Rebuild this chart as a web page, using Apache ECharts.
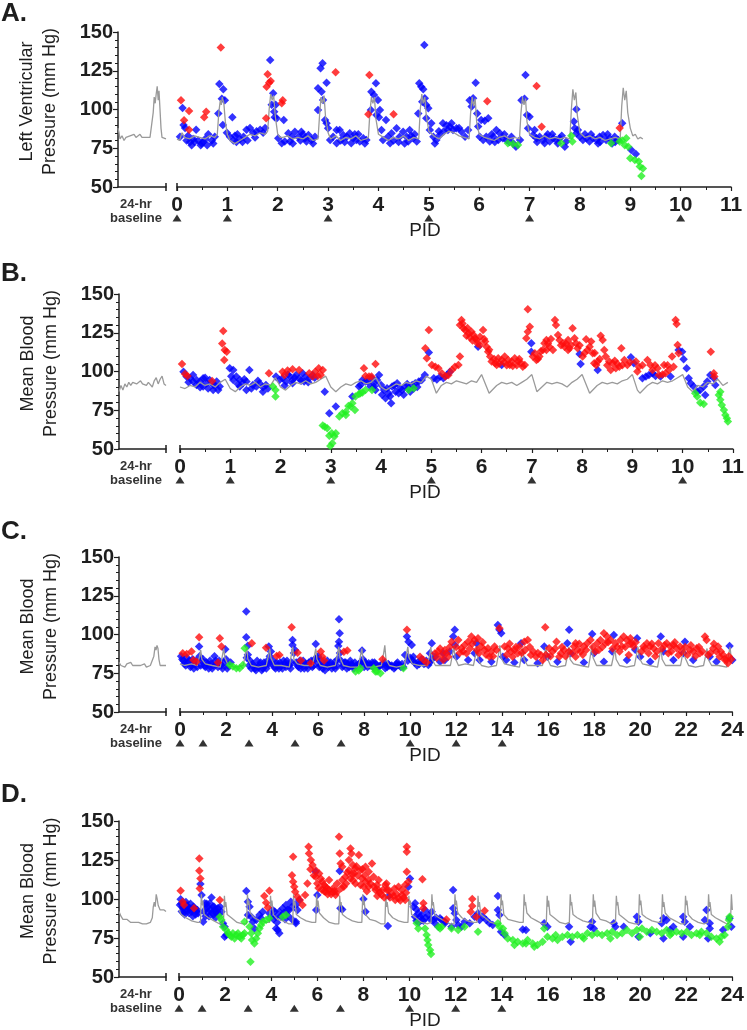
<!DOCTYPE html>
<html><head><meta charset="utf-8">
<script src="https://cdn.jsdelivr.net/npm/echarts@6/dist/echarts.min.js"></script>
<style>html,body{margin:0;padding:0;background:#fff}#c{width:747px;height:1030px}</style>
</head><body><div id="c"></div>
<script>
// ---------------- DATA ----------------
const panelLetters = ['A.', 'B.', 'C.', 'D.'];
const yNames = ['Left Ventricular\nPressure (mm Hg)', 'Mean Blood\nPressure (mm Hg)', 'Mean Blood\nPressure (mm Hg)', 'Mean Blood\nPressure (mm Hg)'];
const xMaxes = [11, 11, 24, 24];
const xIntervals = [1, 1, 2, 2];
const baselineText = '24-hr\nbaseline';
const xTitle = 'PID';
const arrowsA = [0, 1, 3, 5, 7, 10];
const arrowsB = [0, 1, 3, 5, 7, 10];
const arrowsC = [0, 1, 3, 5, 7, 10, 12, 14];
const arrowsD = [0, 1, 3, 5, 7, 10, 12, 14];

// Panel A
const aBase = [[0,88],[0.5,85],[1,81],[2,83],[3,80],[4,82],[5,81],[6,83],[7,82],[8,84],[9,82],[10,83],[11,84],[12,82],[13,83],[14,82],[15,83],[16,82],[17,82],[17.6,98],[18.1,108],[18.6,104],[19.1,110],[19.6,115],[20.1,106],[20.5,112],[21,100],[21.5,88],[22,82],[23,81],[24,81]];
const aLine = [[0,81],[0.05,80],[0.1,85],[0.15,82],[0.25,81],[0.35,83],[0.45,82],[0.55,81],[0.65,83],[0.75,82],[0.8,84],[0.83,98],[0.86,106],[0.88,103],[0.9,108],[0.93,104],[0.96,92],[1.0,84],[1.05,80],[1.15,78],[1.25,80],[1.35,82],[1.45,84],[1.55,83],[1.65,85],[1.75,84],[1.8,86],[1.83,100],[1.86,110],[1.89,106],[1.92,109],[1.95,96],[2.0,84],[2.05,82],[2.1,82],[2.2,83],[2.3,81],[2.4,82],[2.5,81],[2.6,83],[2.7,80],[2.8,81],[2.83,96],[2.86,108],[2.89,104],[2.92,109],[2.95,95],[3.0,85],[3.05,81],[3.15,83],[3.25,80],[3.35,82],[3.45,81],[3.55,83],[3.65,80],[3.75,81],[3.8,82],[3.83,98],[3.86,108],[3.89,104],[3.92,108],[3.95,94],[4.0,84],[4.1,82],[4.2,80],[4.3,82],[4.4,81],[4.5,83],[4.6,80],[4.7,82],[4.8,81],[4.83,100],[4.86,110],[4.89,104],[4.92,108],[4.95,96],[5.0,86],[5.1,83],[5.2,81],[5.3,84],[5.4,86],[5.5,85],[5.6,83],[5.7,82],[5.8,81],[5.83,98],[5.86,108],[5.89,102],[5.92,107],[5.95,92],[6.0,84],[6.1,82],[6.2,81],[6.3,80],[6.4,82],[6.5,83],[6.6,81],[6.7,82],[6.8,81],[6.83,98],[6.86,108],[6.89,103],[6.92,107],[6.95,92],[7.0,84],[7.1,82],[7.2,81],[7.3,83],[7.4,81],[7.5,82],[7.6,81],[7.7,82],[7.8,81],[7.83,100],[7.86,113],[7.89,106],[7.92,111],[7.95,96],[8.0,85],[8.1,82],[8.2,83],[8.3,81],[8.4,82],[8.5,80],[8.6,81],[8.7,82],[8.8,81],[8.83,102],[8.86,114],[8.89,106],[8.92,112],[8.95,98],[9.0,88],[9.05,83],[9.1,84],[9.15,81],[9.2,82],[9.25,81]];
const aBlue = [[0.06,82.5],[0.11,101],[0.13,90],[0.16,88],[0.19,80],[0.22,83],[0.26,79],[0.29,77],[0.32,81],[0.38,87],[0.42,80],[0.47,77],[0.49,78],[0.52,79],[0.56,81],[0.62,84],[0.69,80],[0.75,82.5],[0.82,97.5],[0.84,116.5],[0.89,107],[0.91,90],[0.92,113],[0.95,106],[0.99,85],[1.05,82.5],[1.1,95],[1.12,80],[1.18,79],[1.2,84],[1.25,81],[1.32,82.5],[1.38,87],[1.4,80],[1.45,88],[1.51,85],[1.58,86],[1.65,87],[1.71,85],[1.75,88],
[1.85,132],[1.88,103],[1.91,110.5],[1.93,98.6],[1.94,95],[1.96,103],[1.98,94.3],[2.01,81.4],[2.08,78.2],[2.12,93.3],[2.14,79.3],[2.21,84.6],[2.24,79.3],[2.28,82.5],[2.34,85.7],[2.41,82.5],[2.45,80],[2.47,85.7],[2.54,81.4],[2.57,79.3],[2.61,83.6],[2.67,80.3],[2.74,82.5],
[2.8,113.7],[2.8,99.7],[2.85,126.6],[2.87,111.5],[2.89,129.8],[2.9,106.2],[2.94,93.3],[2.97,117.3],[2.97,91.1],[3.0,87.9],[3.04,80.3],[3.1,82.5],[3.17,86.8],[3.17,78.2],[3.23,86.8],[3.25,80],[3.3,83.6],[3.37,82.5],[3.43,84.6],[3.46,78.2],[3.5,81.4],[3.56,80.3],[3.6,84],[3.63,79.3],[3.7,81.4],[3.76,80.3],
[3.85,99.7],[3.86,111.5],[3.91,109.4],[3.95,116.9],[3.96,96.5],[3.99,106.2],[4.01,95],[4.03,99.7],[4.06,86.8],[4.09,80.3],[4.15,93.3],[4.19,82.5],[4.23,78.2],[4.26,84.6],[4.3,80],[4.36,87.9],[4.42,82.5],[4.49,85.7],[4.56,82.5],[4.59,79.3],[4.62,86.8],[4.65,83],[4.69,81.4],[4.76,79.3],
[4.79,97.5],[4.81,116.9],[4.85,114.7],[4.87,105],[4.89,113],[4.91,141.6],[4.92,107.2],[4.95,102.9],[4.95,94.3],[4.99,100.8],[5.02,86.8],[5.05,91.1],[5.09,82.5],[5.15,80.3],[5.2,86],[5.22,83.6],[5.28,91.1],[5.35,89.9],[5.38,86.8],[5.42,88.9],[5.45,91.1],[5.48,86.8],[5.55,87.9],[5.6,88],[5.65,85.7],[5.72,82.5],[5.78,86.8],
[5.81,106],[5.85,101.9],[5.88,107.2],[5.93,117.3],[5.96,97.5],[5.98,89],[6.01,82.5],[6.04,93.2],[6.08,80.3],[6.11,92.8],[6.14,82.5],[6.18,94.3],[6.21,79.3],[6.25,84],[6.28,82.5],[6.34,86.8],[6.38,80.3],[6.41,84.6],[6.47,81.4],[6.54,80.3],[6.6,79],[6.64,82.5],[6.73,76],[6.81,80.3],
[6.84,106],[6.9,107],[6.92,122.3],[6.95,96.5],[6.97,87.9],[7.0,95.4],[7.07,83.6],[7.1,86.8],[7.14,81.4],[7.15,79],[7.2,82.5],[7.27,80.3],[7.3,78.2],[7.33,82.5],[7.4,79.3],[7.45,84],[7.47,81.4],[7.53,80.3],[7.6,81.4],[7.7,76],[7.73,79.3],
[7.88,92.2],[7.9,87.9],[7.93,100.1],[7.93,84.6],[7.96,86.8],[8.0,82.5],[8.06,80.3],[8.1,84],[8.13,81.4],[8.19,79.3],[8.26,81.4],[8.33,80.3],[8.39,82.5],[8.4,79],[8.46,83.6],[8.52,80.3],[8.55,84],[8.59,81.4],[8.69,82.5],[8.7,79],[8.76,80.3],[8.84,91.1],[9.02,73.9],[9.11,71.3],
[0.35,79],[0.6,77],[0.72,78],[1.15,83],[1.3,79],[1.55,82],[2.3,78],[2.5,84],[2.7,78],[3.33,79],[3.53,84],[3.73,78],[4.4,79],[4.52,78],[4.72,84],[5.12,78],[5.3,86],[6.31,79],[6.5,84],[6.68,78],[7.36,84],[7.56,78],[7.64,83],[8.22,84],[8.36,78],[8.64,78]];
const aRed = [[0.08,106],[0.14,93],[0.24,87],[0.24,99],[0.54,95],[0.58,98.6],[0.87,140],[1.77,94.3],[1.78,114.7],[1.8,122.7],[1.83,117.3],[1.86,118.4],[2.08,104],[2.1,106],[3.15,124],[3.8,97],[3.82,122.3],[4.3,97],[6.16,105.3],[7.14,115.2],[7.24,88.9],[8.79,88.1]];
const aGreen = [[6.57,78.2],[6.67,77.8],[6.77,77.1],[7.63,78.2],[7.83,83],[7.85,79.3],[8.62,78.2],[8.79,79.3],[8.84,80],[8.89,77],[8.92,81.4],[8.96,76],[9.0,68.5],[9.09,67.5],[9.17,66.4],[9.19,63.2],[9.22,57.1],[9.25,62]];

// Panel B
const bBase = [[0,87],[1,91],[2,88],[3,92],[4,90],[5,93],[6,91],[7,93],[8,94],[9,92],[10,93],[11,94],[12,92],[13,93],[14,91],[15,93],[16,92],[17,90],[18,94],[19,96],[20,92],[21,95],[22,97],[23,92],[24,91]];
const bLine = [[0,90],[0.1,89],[0.2,91],[0.3,90],[0.4,93],[0.5,91],[0.6,92],[0.7,90],[0.8,93],[0.9,95],[1.0,89],[1.1,87],[1.2,90],[1.3,92],[1.4,91],[1.5,93],[1.6,90],[1.7,92],[1.8,91],[1.9,96],[2.0,90],[2.1,88],[2.2,91],[2.3,93],[2.4,92],[2.5,94],[2.6,92],[2.7,93],[2.8,95],[2.9,97],[3.0,90],[3.1,87],[3.2,90],[3.3,92],[3.4,91],[3.5,93],[3.6,94],[3.7,92],[3.8,93],[3.9,96],[4.0,90],[4.1,88],[4.2,90],[4.3,92],[4.4,91],[4.5,93],[4.6,92],[4.7,94],[4.8,93],[4.9,97],[5.0,95],[5.1,86],[5.2,91],[5.3,93],[5.4,92],[5.5,94],[5.6,93],[5.7,92],[5.8,94],[5.9,93],[6.0,98],[6.1,90],[6.15,86],[6.3,91],[6.4,93],[6.5,92],[6.6,93],[6.7,91],[6.8,93],[6.9,95],[7.0,98],[7.1,87],[7.2,90],[7.3,93],[7.4,92],[7.5,93],[7.6,92],[7.7,90],[7.8,93],[7.9,95],[8.0,98],[8.1,90],[8.15,86],[8.3,91],[8.4,93],[8.5,92],[8.6,93],[8.7,92],[8.8,94],[8.9,95],[9.0,98],[9.1,88],[9.15,86],[9.3,91],[9.4,93],[9.5,92],[9.6,94],[9.7,93],[9.8,94],[9.9,96],[10.0,98],[10.1,90],[10.2,87],[10.3,91],[10.4,90],[10.5,93],[10.6,92],[10.7,95],[10.8,91],[10.9,93]];
const bBlue = [[0.07,99.9],[0.13,96.7],[0.2,95.6],[0.26,97.8],[0.26,93.5],[0.33,94.5],[0.33,91.3],[0.4,93.5],[0.4,89.8],[0.46,95.6],[0.46,90.3],[0.53,92.4],[0.59,94.5],[0.66,91.3],[0.66,88.1],[0.73,93.5],[0.76,88.1],[0.79,90.3],
[0.99,102.1],[1.06,101],[1.06,94.5],[1.12,96.7],[1.19,94.5],[1.19,90.3],[1.25,92.4],[1.32,93.5],[1.32,88.1],[1.38,101],[1.45,91.3],[1.52,90.3],[1.58,92.4],[1.65,89.8],[1.65,87],[1.71,91.3],
[1.91,96.7],[1.98,94.5],[2.04,95.6],[2.11,93.5],[2.18,96.7],[2.24,94.5],[2.24,92.4],[2.31,97.8],[2.37,95.6],[2.44,98.9],[2.47,93.5],[2.5,96.7],[2.57,95.6],[2.64,97.8],[2.88,87],[2.97,73.1],[3.1,77.4],[3.43,83.8],[3.56,90.3],[3.63,94.5],[3.73,93.5],[3.82,95.6],[3.86,90.3],[3.92,94.5],
[3.59,91.3],[3.69,93.5],[3.79,90.3],[3.86,92.4],[3.89,88.1],[3.96,97.8],[4.0,91.3],[4.06,88.1],[4.09,82.7],[4.12,89.2],[4.15,86],[4.2,79.5],[4.22,90.3],[4.29,87],[4.32,92.4],[4.35,86],[4.42,88.1],[4.48,90.3],[4.55,89.2],[4.62,91.3],[4.68,92.4],[4.75,93.5],[4.81,94.5],[4.87,97.8],[4.95,112.2],[5.05,95.6],[5.11,94.9],[5.18,96.7],[5.24,95.6],[5.31,97.8],[5.37,99.9],[5.93,116],[6.4,104.2],[6.99,118.2],[6.99,112.8],[7.95,111.3],[7.97,104.9],[8.31,101],[8.97,109.2],[9.03,105.3],[9.2,95.6],[9.27,96.7],[9.33,97.8],[9.4,98.9],[9.46,97.1],[9.56,96.7],[9.76,96.7],[9.92,113.9],[9.99,112.8],[10.02,107.9],[10.08,102.1],[10.12,95.6],[10.16,92.4],[10.22,90.3],[10.29,87],[10.35,88.1],[10.42,90.3],[10.45,84.9],[10.49,93.5],[10.55,97.8],[10.62,95.6],[10.65,91.3],
[0.17,93],[0.5,96],[0.56,89],[0.7,91],[1.02,97],[1.15,92],[1.28,95],[1.42,89],[1.55,94],[1.75,89],[2.08,91],[2.15,98],[2.28,96],[2.41,94],[2.55,93],[2.68,96],[4.02,85],[4.18,84],[4.26,91],[4.38,89],[4.45,85],[4.52,92],[4.58,87],[4.65,89],[4.72,90]];
const bRed = [[0.04,104.9],[0.1,98.4],[0.15,97.1],[0.64,93.9],[0.86,126.2],[0.84,118],[0.89,113.9],[0.93,112.8],[0.88,107.5],[1.77,98.9],[2.04,99.9],[2.08,97.8],[2.14,100.6],[2.24,101.4],[2.37,101],[2.57,98.9],[2.64,96.7],[2.69,99.9],[2.74,97.1],[2.76,102.1],[2.8,97.8],[2.84,101],[3.66,102.1],[3.69,97.1],[3.76,96.7],[3.81,96.7],[3.89,104.9],
[4.88,115],[4.95,126.8],[4.91,108.5],[5.01,104.2],[5.08,103.1],[5.14,102.1],[5.21,98.9],[5.28,96.7],[5.34,97.8],[5.41,101],[5.47,103.1],[5.54,104.2],[5.57,109.6],
[5.6,133.2],[5.57,130],[5.64,127.9],[5.67,126.8],[5.7,123],[5.74,124.7],[5.77,122],[5.8,125.7],[5.84,123.6],[5.87,121.4],[5.9,120.4],[5.97,122.5],[5.97,117.1],[6.03,126.8],[6.07,119.3],[6.1,116],[6.13,112.8],[6.17,109.6],[6.2,106.4],[6.27,105.3],[6.3,104.2],[6.33,108.5],[6.4,107.4],[6.46,109.6],[6.53,107.4],[6.56,104.2],[6.6,106.4],[6.66,108.5],[6.73,106.4],[6.79,105.3],[6.86,104.2],
[6.92,140.1],[6.96,128.9],[6.89,121.4],[6.92,125.7],[7.02,109.6],[7.06,111.7],[7.09,107.4],[7.15,109.6],[7.22,113.9],[7.25,118.2],[7.29,120.4],[7.29,113.9],[7.35,116],[7.42,113.9],[7.46,133.2],[7.48,130],[7.52,123.6],[7.55,120.4],[7.62,118.2],[7.65,116],[7.72,113.9],[7.72,120.4],[7.78,117.1],[7.81,127.9],[7.85,121.4],[7.88,118.2],[7.91,115],[8.01,109.6],[8.08,120.8],[8.11,113.9],[8.18,119.3],[8.21,111.7],[8.24,105.3],[8.28,104.2],[8.31,106.4],[8.37,123],[8.41,120.4],[8.44,113.9],[8.47,109.6],[8.54,106.4],[8.57,101],[8.61,105.3],[8.67,102.1],[8.74,103.1],[8.78,115],[8.84,107.4],[8.9,104.2],[9.07,106.4],[9.13,103.1],[9.3,107.4],[9.36,104.2],[9.5,102.1],[9.53,97.8],[9.63,104.2],[9.66,98.9],[9.73,101],[9.79,109.6],[9.86,133.2],[9.88,130.7],[9.9,117.1],[9.92,111.7],[10.56,112.8],[10.62,98.9],[10.63,96.7],
[5.62,131],[5.72,128],[5.82,120],[5.92,118],[6.05,121],[6.15,114],[6.25,108],[6.35,105],[6.45,106],[6.5,104],[6.62,103.5],[6.7,104],[6.75,108],[6.82,103],[7.12,108],[7.18,113],[7.32,118],[7.38,121],[7.58,117],[7.68,118],[7.75,115],[7.95,117],[8.05,112],[8.15,116],[8.25,112],[8.35,108],[8.5,104],[8.65,107],[8.7,105],[8.8,104],[8.95,106],[9.1,100],[9.2,104],[9.4,101],[9.45,104],[9.6,98],[9.7,104],[9.82,103]];
const bGreen = [[1.85,90.3],[1.9,88.1],[1.9,83.8],[2.84,65.1],[2.88,64.4],[2.93,63.4],[2.97,58.6],[2.99,52],[3.02,60.2],[3.03,53.7],[3.07,58],[3.1,60.2],[3.17,70.9],[3.23,73.1],[3.3,74.1],[3.3,72],[3.35,77.8],[3.4,77.4],[3.43,79.5],[3.48,75.2],[3.49,83.8],[3.56,85.5],[3.59,86],[3.63,86.4],[3.69,88.1],[3.82,88.1],[4.55,88.1],[4.65,89.2],[10.25,86],[10.29,83.8],[10.35,79.9],[10.42,79.1],[10.72,84.9],[10.75,87],[10.75,81.7],[10.78,78.4],[10.82,75.2],[10.85,72],[10.88,69.8],[10.9,67.7]];

// Panel C
const cBase = [[0,82],[1,80],[2,81],[3,79],[4,81],[5,80],[6,82],[7,80],[8,81],[9,80],[10,81],[11,80],[12,80],[13,81],[14,79],[15,80],[16,80],[17,80],[17.8,86],[18.4,92],[18.9,90],[19.4,93],[19.9,91],[20.4,84],[21,80],[22,81],[24,80]];
const cLine = [[0,81],[0.2,80],[0.5,81],[0.75,80],[0.85,86],[0.9,90],[0.95,84],[1.1,81],[1.4,80],[1.75,79],[1.85,87],[1.9,91],[1.95,85],[2.1,80],[2.4,79],[2.75,80],[2.85,88],[2.9,92],[2.95,84],[3.1,80],[3.4,79],[3.75,80],[3.85,87],[3.9,91],[3.95,85],[4.1,80],[4.4,80],[4.75,79],[4.85,88],[4.9,92],[4.95,84],[5.1,81],[5.4,80],[5.75,80],[5.85,87],[5.9,91],[5.95,84],[6.1,80],[6.4,79],[6.75,80],[6.85,88],[6.9,92],[6.95,85],[7.1,80],[7.4,79],[7.75,79],[7.85,87],[7.9,91],[7.95,84],[8.1,79],[8.4,79],[8.75,80],[8.85,88],[8.9,93],[8.95,84],[9.1,80],[9.4,79],[9.75,80],[9.85,88],[9.9,92],[9.95,85],[10.1,81],[10.4,80],[10.75,80],[10.85,87],[10.9,92],[10.95,84],[11.1,80],[11.4,80],[11.75,80],[11.85,88],[11.9,93],[11.95,85],[12.1,80],[12.4,81],[12.75,80],[12.85,87],[12.9,92],[12.95,84],[13.1,80],[13.4,79],[13.75,80],[13.85,88],[13.9,93],[13.95,85],[14.1,81],[14.4,80],[14.75,79],[14.85,87],[14.9,91],[14.95,84],[15.1,80],[15.4,80],[15.75,80],[15.85,88],[15.9,92],[15.95,85],[16.1,80],[16.4,79],[16.75,80],[16.85,87],[16.9,92],[16.95,84],[17.1,81],[17.4,80],[17.75,79],[17.85,88],[17.9,93],[17.95,85],[18.1,80],[18.4,80],[18.75,80],[18.85,87],[18.9,91],[18.95,84],[19.1,80],[19.4,79],[19.75,80],[19.85,88],[19.9,92],[19.95,85],[20.1,81],[20.4,80],[20.75,79],[20.85,87],[20.9,92],[20.95,84],[21.1,80],[21.4,80],[21.75,80],[21.85,88],[21.9,93],[21.95,85],[22.1,80],[22.4,79],[22.75,80],[22.85,87],[22.9,91],[22.95,84],[23.1,80],[23.4,80],[23.75,79],[23.85,88],[23.9,92],[23.95,85],[24,82]];
const cBlue = [[0.83,92.2],[1.97,90.5],[2.88,114.8],[2.88,98.2],[2.95,92.8],[3.86,92.2],[4.89,96.5],[4.89,93.3],[5.9,93.9],[6.91,109.8],[6.94,100.8],[6.91,95.4],[6.88,92.6],[7.91,89.6],
[0.05,86],[0.15,83],[0.25,80],[0.3,85],[0.35,82],[0.45,79],[0.55,84],[0.65,81],[0.75,79],[0.85,86],[0.95,83],[1.05,80],[1.15,82],[1.25,78],[1.35,81],[1.45,80],[1.5,86],[1.55,83],[1.65,79],[1.75,81],[1.85,78],[2.0,84],[2.1,80],[2.2,82],[2.9,85],[2.95,87],[3.0,80],[3.1,78],[3.2,80],[3.3,77],[3.4,79],[3.5,82],[3.6,78],[3.7,80],[3.8,83],[3.9,86],[3.95,89],[4.0,81],[4.1,79],[4.2,82],[4.3,78],[4.4,80],[4.5,83],[4.6,79],[4.7,81],[4.8,78],[4.95,88],[5.0,90],[5.05,82],[5.15,79],[5.3,81],[5.4,78],[5.5,80],[5.6,82],[5.75,79],[5.85,84],[6.0,86],[6.0,82],[6.1,80],[6.2,78],[6.35,81],[6.45,79],[6.55,82],[6.65,80],[6.75,78],[6.85,84],[6.95,88],[7.0,83],[7.1,80],[7.2,82],[7.35,79],[7.45,81],[7.55,78],[7.65,80],[7.84,81.9],[7.85,82],[8.0,79],[8.1,81],[8.2,81.5],[8.3,80],[8.45,82],[8.6,79],[8.63,79.3],[8.8,81],[8.92,78.2],[9.0,79],[9.1,80],[9.21,79.3],[9.3,78],[9.4,81],[9.5,80.4],[9.6,79],
[0.1,84],[0.2,81],[0.4,83],[0.5,80],[0.6,78],[0.7,83],[0.9,80],[1.0,84],[1.1,79],[1.2,81],[1.3,83],[1.4,78],[1.6,81],[1.7,83],[1.8,80],[1.9,82],[2.05,78],[3.05,83],[3.15,81],[3.25,78],[3.35,83],[3.45,80],[3.55,77],[3.65,82],[3.75,78],[3.85,81],[4.05,83],[4.15,78],[4.25,80],[4.35,82],[4.45,78],[4.55,81],[4.65,83],[4.75,80],[4.85,82],[5.1,80],[5.2,83],[5.25,78],[5.35,83],[5.45,81],[5.55,78],[5.65,81],[5.7,83],[5.8,80],[5.95,85],[6.05,79],[6.15,83],[6.25,80],[6.3,77],[6.4,83],[6.5,80],[6.6,78],[6.7,82],[6.8,80],[7.05,79],[7.15,82],[7.25,78],[7.3,81],[7.4,83],[7.5,80],[7.6,82],[7.7,79],[7.8,81],[7.95,84],[8.05,82],[8.15,79],[8.25,80],[8.35,82],[8.4,79],[8.5,81],[8.7,80],[8.9,82],[9.05,81],[9.2,80],[9.35,79],[9.45,82],[9.55,80],[9.65,81],[9.7,79],[9.9,83],[10.0,85],[10.1,83],[10.4,81],[10.7,83],[10.95,84],
[9.86,98.7],[9.93,95.4],[10.07,93.3],[9.78,86.8],[10.14,85.7],[10.2,82],[10.3,80],[10.36,82.5],[10.5,84],[10.6,81],[10.65,81.5],[10.79,80.4],[10.85,82],[10.94,94.4],[10.86,87.9],[11.08,85.7],[11.3,82.5],[11.44,87.9],[11.51,83.6],[11.73,89],[11.87,98.7],[11.94,103],[11.94,93.3],[12.01,85.7],[12.52,83.6],[12.88,94.4],[12.8,87.9],[13.02,83.6],[13.53,82.5],[13.81,106.2],[13.88,103],[13.96,100.8],[14.03,85.7],[14.17,83.6],[14.53,81.9],[14.82,94.4],[14.96,83.6],[15.54,81.5],[15.83,92.2],[15.97,85.7],[16.4,82.5],[16.91,103],[16.83,94.4],[16.98,87.9],[17.55,81.9],[17.91,100.4],[17.99,87.9],[18.42,82.5],[18.85,99.7],[18.78,89],[19.42,83.6],[19.86,97.6],[19.78,90.1],[20.0,85.7],[20.43,82.5],[20.89,98.7],[21.01,89],[21.44,83.6],[21.94,95.4],[21.87,87.9],[22.3,83.6],[23.02,85.7],[23.31,82.5],[23.88,92.6],[24.0,83.6]];
const cRed = [[0.12,87.9],[0.29,87.5],[0.5,89],[0.58,83.6],[0.72,82.5],[0.83,98.2],[1.73,97.6],[1.8,92.2],[1.65,81.9],[3.12,94.4],[3.74,91.5],[4.2,86.2],[4.32,86.8],[4.85,104.7],[5.11,88.3],[5.25,83.2],[5.68,81.5],[6.12,89],[6.19,85.7],[6.26,83.2],[7.12,88.8],[7.27,89.6],[8.8,84],
[9.86,103],[10.43,85.7],[10.58,83.6],[10.72,81.9],
[11.08,87.9],[11.22,89],[11.37,86.8],[11.44,83.6],[11.51,90],[11.65,85.7],[11.8,95.4],[12.09,96.5],[12.23,91.1],[12.3,89],[12.37,93.3],[12.45,87.9],[12.52,95.4],[12.66,98.7],[12.8,96.5],[12.95,97.6],[13.09,92.2],[13.24,90],[13.38,91.1],[13.45,85.7],[13.53,89],[13.67,92.2],[13.88,104],[14.1,92.2],[14.25,91.1],[14.39,89],[14.46,85.7],[14.53,90],[14.68,87.9],[14.75,92.2],[14.96,95.4],[15.11,96.5],[15.25,86.8],[15.47,85.7],[15.68,86.8],[15.76,83.6],[15.87,104.7],[16.04,91.1],[16.19,89],[16.36,95.4],[16.48,85.7],[16.55,87.9],[16.69,90],[17.12,92.2],[17.19,85.7],[17.19,94.4],[17.27,90],[17.41,89],[17.55,92.2],[17.7,94.4],[17.84,96.5],[18.13,94.4],[18.2,90],[18.27,96.5],[18.42,100.8],[18.49,94.4],[18.56,98.7],[18.71,96.5],[18.92,94.4],[19.14,96.5],[19.21,92.2],[19.28,98.7],[19.42,96.5],[19.5,86.8],[19.57,97.6],[19.64,94.4],[19.71,92.2],[20.14,92.2],[20.29,94.4],[20.36,87.9],[20.43,92.2],[20.58,91.1],[20.72,89],[20.79,94.4],[21.15,94.4],[21.22,87.9],[21.3,92.2],[21.44,93.3],[21.58,91.1],[21.66,86.8],[21.73,92.2],[22.16,90],[22.3,89],[22.45,91.1],[22.59,87.9],[22.81,98.7],[22.88,96.5],[22.95,86.8],[23.17,91.1],[23.31,89],[23.38,92.2],[23.45,85.7],[23.6,86.8],[23.74,83.6],[23.81,81.5],
[11.15,85],[11.3,91],[11.58,88],[11.72,92],[12.0,92],[12.15,88],[12.6,91],[12.7,94],[12.9,90],[13.0,88],[13.15,95],[13.3,87],[13.6,86],[13.75,90],[14.2,87],[14.32,94],[14.6,92],[14.85,88],[15.0,90],[15.2,92],[15.35,89],[15.55,88],[15.9,87],[16.1,86],[16.3,91],[16.6,92],[16.75,86],[16.9,89],[17.05,88],[17.35,94],[17.5,87],[17.65,90],[17.95,92],[18.05,89],[18.35,92],[18.6,95],[18.8,91],[19.0,92],[19.1,89],[19.35,92],[19.55,94],[19.8,95],[20.05,89],[20.2,91],[20.5,94],[20.65,86],[20.95,91],[21.05,93],[21.35,89],[21.5,95],[21.8,89],[21.95,92],[22.05,87],[22.2,93],[22.4,86],[22.55,92],[22.7,89],[23.05,88],[23.2,94],[23.5,89],[23.65,84],[23.85,86],[23.95,84]];
const cGreen = [[2.16,80.4],[2.3,79.3],[2.45,78.2],[2.59,78.2],[2.73,80.4],[2.81,91.1],[7.63,76.1],[7.77,76.7],[7.84,78.2],[8.42,78.2],[8.49,76.1],[8.56,76.1],[8.71,75],[9.71,78.2]];

// Panel D
const dBase = [[0,92],[1,89],[2,87],[3,86],[4,87],[5,86],[6,85],[7,86],[8,85],[9,86],[10,85],[11,85],[12,84],[13,85],[14,84],[15,84],[16,85],[17,88],[17.5,95],[18,98],[18.5,95],[19,103],[19.5,100],[20,96],[21,93],[22,92],[23,93],[24,92]];
const dLine = [[0,93],[0.1,90],[0.3,88],[0.55,86],[0.8,85],
[0.93,85],[0.97,103],[1.0,96],[1.03,99],[1.09,90],[1.27,88],[1.52,86],[1.77,84],
[1.93,85],[1.97,102],[2.0,95],[2.03,98],[2.09,90],[2.27,88],[2.52,85],[2.77,84],
[2.93,84],[2.97,103],[3.0,96],[3.03,99],[3.09,91],[3.27,88],[3.52,86],[3.77,85],
[3.93,85],[3.97,102],[4.0,95],[4.03,99],[4.09,90],[4.27,87],[4.52,86],[4.77,84],
[4.93,84],[4.97,103],[5.0,96],[5.03,98],[5.09,90],[5.27,88],[5.52,86],[5.77,85],
[5.93,85],[5.97,103],[6.0,95],[6.03,99],[6.09,91],[6.27,88],[6.52,85],[6.77,84],
[6.93,84],[6.97,102],[7.0,96],[7.03,98],[7.09,90],[7.27,88],[7.52,86],[7.77,85],
[7.93,85],[7.97,103],[8.0,96],[8.03,99],[8.09,90],[8.27,87],[8.52,86],[8.77,84],
[8.93,84],[8.97,103],[9.0,95],[9.03,98],[9.09,91],[9.27,88],[9.52,86],[9.77,85],
[9.93,85],[9.97,102],[10.0,96],[10.03,99],[10.09,90],[10.27,88],[10.52,85],[10.77,84],
[10.93,85],[10.97,103],[11.0,96],[11.03,98],[11.09,90],[11.27,88],[11.52,86],[11.77,84],
[11.93,84],[11.97,103],[12.0,96],[12.03,99],[12.09,91],[12.27,88],[12.52,86],[12.77,85],
[12.93,85],[12.97,102],[13.0,95],[13.03,98],[13.09,90],[13.27,88],[13.52,85],[13.77,84],
[13.93,84],[13.97,103],[14.0,96],[14.03,99],[14.09,90],[14.27,87],[14.52,86],[14.77,85],
[14.93,85],[14.97,103],[15.0,96],[15.03,98],[15.09,91],[15.27,88],[15.52,86],[15.77,84],
[15.93,84],[15.97,102],[16.0,95],[16.03,99],[16.09,90],[16.27,88],[16.52,85],[16.77,84],
[16.93,85],[16.97,103],[17.0,96],[17.03,98],[17.09,90],[17.27,88],[17.52,86],[17.77,85],
[17.93,84],[17.97,103],[18.0,95],[18.03,99],[18.09,91],[18.27,87],[18.52,86],[18.77,84],
[18.93,85],[18.97,102],[19.0,96],[19.03,98],[19.09,90],[19.27,88],[19.52,85],[19.77,84],
[19.93,84],[19.97,103],[20.0,96],[20.03,99],[20.09,90],[20.27,88],[20.52,86],[20.77,85],
[20.93,85],[20.97,103],[21.0,95],[21.03,98],[21.09,91],[21.27,88],[21.52,86],[21.77,84],
[21.93,84],[21.97,102],[22.0,96],[22.03,99],[22.09,90],[22.27,87],[22.52,85],[22.77,84],
[22.93,85],[22.97,103],[23.0,95],[23.03,98],[23.09,90],[23.27,88],[23.52,86],[23.77,84],
[23.92,85],[23.96,103],[24.0,93]];
const dBlue = [[0.04,96.1],[0.07,99.9],[0.12,92],[0.19,94],[0.25,90],[0.3,98],[0.33,96.1],[0.4,92.9],[0.47,94],[0.54,91.8],[0.6,89],[0.69,94],[0.75,92],[0.83,90.8],[0.93,109.6],[0.98,102.5],[1.05,85.4],[1.12,97.2],[1.19,94],[1.2,97],[1.26,91.8],[1.3,89],[1.34,97.2],[1.41,101],[1.48,95],[1.5,90],[1.55,92.9],[1.62,90.8],[1.69,94],[1.84,91.8],[1.91,84.4],[1.98,82.2],[2.05,76.9],[1.98,75.8],
[0.1,97],[0.15,95],[0.2,91],[0.28,93],[0.36,95],[0.43,91],[0.5,97],[0.58,93],[0.63,95],[0.72,90],[0.8,93],[1.08,92],[1.15,89],[1.23,95],[1.37,93],[1.44,91],[1.52,95],[1.58,88],[1.65,92],[1.72,90],[1.78,95],
[2.92,105.1],[2.99,98.2],[3.06,95],[2.99,89.7],[3.13,88.6],[3.2,85.4],[3.27,81.1],[3.35,86.5],[3.49,89.7],[3.56,87.6],[3.63,91.8],[3.92,90.8],[4.06,92.9],[4.21,88.6],[4.35,91.8],[4.5,94],[4.64,96.1],[4.78,92.9],[4.85,98.2],[4.93,86.5],[5.07,85.4],[4.21,81.1],[4.35,78],[4.28,80.1],[5.07,96.1],[5.14,92.9],[5.21,99.3],[5.07,84.4],[5.93,117.5],[6.0,102.5],[5.95,93],[6.97,118],[7.0,94],[7.08,93.3],[8.0,100],[8.09,91.8],[9.06,82.7],[9.1,102],
[4.0,89],[4.1,87],[4.15,92],[4.25,85],[4.42,89],[4.55,91],[4.6,87],[4.7,93],[4.75,89],[4.9,95],
[9.95,107.9],[10.02,113.2],[10.17,95],[10.24,97.2],[10.31,93.3],[10.38,90.8],[10.46,88.6],[10.53,89.7],[10.67,92.9],[10.81,89.7],[10.96,91.8],[11.03,86.5],[11.1,84.4],[11.25,82.2],[11.39,86.5],[11.53,84.4],[10.24,88.6],[10.53,86.5],[10.3,86],[10.4,85],[10.6,86],[10.7,88],[10.9,87],[11.15,88],
[11.32,87.6],[11.53,85.4],[11.89,105.7],[11.89,94],[11.96,90.8],[11.82,82.2],[12.03,86.5],[12.11,83.3],[12.25,82.2],[12.39,85.4],[12.61,84.4],[12.82,88.6],[12.97,90.8],[13.04,86.5],[13.18,88.6],[13.33,86.5],[13.47,84.4],[13.61,83.3],[13.83,101.9],[13.83,92.9],[13.9,89.7],[13.97,79],[14.12,76.9],[14.91,80.5],[15.05,80.1],[15.84,84.4],[15.98,82.2],[16.92,82.2],[16.99,72.6],[17.85,82.2],[17.92,85.4],[17.99,81.1],[18.86,84.4],[18.93,82.2],[19.29,82.2],[19.86,88.6],[19.93,85.4],[19.93,75.8],[20.44,78],[21.01,87.6],[20.94,84.4],[21.15,86.5],[21.01,74.7],[21.3,80.1],[21.44,82.2],[21.87,88.6],[21.94,85.4],[21.87,75.8],[22.16,82.2],[22.88,92.9],[22.81,86.5],[23.02,84.4],[23.02,81.1],[22.95,74.7],[23.6,80.1],[23.88,87.6],[23.96,82.2]];
const dRed = [[0.07,105.3],[0.16,98.2],[0.22,96.1],[0.65,94],[0.88,126],[0.88,118.1],[0.93,113.2],[0.9,106.8],[1.77,99.3],[3.7,101.9],[3.78,97.6],[3.85,94.6],[3.92,105.3],
[4.95,127.1],[4.9,115.3],[4.95,111.1],[5.0,107.9],[5.04,104.7],[5.14,101.4],[5.24,99.3],[5.36,96.1],[5.47,102.5],[5.57,110],[5.62,133.5],[5.64,129.2],[5.72,125],[5.79,121.8],[5.93,118.5],[5.93,114.3],[6.0,110],[6.08,116.4],[6.15,113.2],[6.22,111.1],[6.29,108.9],[6.36,107.9],[6.36,104.7],[6.43,106.8],[6.51,105.7],[6.51,112.1],[6.65,104.7],[6.79,102.5],[6.86,104.7],[6.86,110],[6.94,139.9],[6.97,129.2],[7.01,122.8],[7.08,112.1],[7.08,120.7],[7.15,107.9],[7.22,114.3],[7.37,118.5],[7.37,125],[7.44,132.4],[7.44,113.2],[7.48,129.2],[7.54,121.8],[7.6,116.4],[7.65,119.6],[7.65,110],[7.8,128.2],[7.87,118.5],[7.87,108.9],[7.94,113.2],[8.01,107.9],[8.09,111.1],[8.09,120.7],[8.23,107.9],[8.23,112.1],[8.23,117.5],[8.37,122.8],[8.44,114.3],[8.52,105.7],[8.59,108.9],[8.66,105.7],[8.66,112.1],[8.8,102.5],[8.95,108.9],[9.02,105.7],[9.09,105.7],[9.23,103.6],[9.35,106.8],[9.38,99.3],[9.52,100.4],[9.52,107.9],[9.67,102.5],[9.67,105.7],[9.81,108.9],[9.81,99.3],[9.88,133.5],[9.88,130.3],[9.88,117.5],[9.95,111.1],[10.56,112.6],[10.6,97.2],[10.6,94],
[5.7,119],[5.85,115],[6.05,107],[6.2,106],[6.3,105],[6.45,103],[6.6,103],[6.7,107],[6.75,105],[7.05,107],[7.25,110],[7.3,117],[7.5,116],[7.55,112],[7.7,121],[7.75,115],[7.95,119],[8.05,115],[8.15,105],[8.3,110],[8.45,108],[8.6,102],[8.7,104],[8.85,106],[8.9,101],[9.0,110],[9.15,101],[9.3,102],[9.45,103],[9.6,99],[9.75,101],[9.85,104],
[11.6,86.9],[12.72,100],[12.72,95.5],[12.65,91.8],[13.26,92.5],[12.9,88.6]];
const dGreen = [[1.77,88.6],[1.84,86.5],[1.91,82.2],[2.05,80.1],[2.13,78],[2.2,76.9],[2.27,75.8],[2.34,78],[2.41,74.7],[2.48,76.9],[2.56,78],[2.63,75.8],[2.7,74.7],[2.77,76.9],[2.84,78],[2.84,85.4],[3.06,82.2],[3.1,59.8],[3.13,78],[3.17,73.7],[3.27,71.5],[3.35,74.7],[3.42,78],[3.49,81.1],[3.56,83.3],[3.63,85.4],[3.78,86.5],[3.92,87.6],[4.5,88.6],[4.64,89.7],
[10.31,84.4],[10.38,81.1],[10.67,81.1],[10.74,76.9],[10.78,73.7],[10.81,70.5],[10.89,67.3],[10.93,64.7],[11.25,82.2],[11.32,81.1],[11.39,82.2],[11.82,81.1],[12.11,80.1],[12.39,82.2],[12.97,79],[13.83,84.4],[13.9,82.2],[14.05,81.1],[14.12,78],[14.26,74.7],[14.48,73.7],[14.55,70.5],[14.69,72.6],[14.91,71.5],[15.05,71.5],[15.12,73.7],[15.34,71.5],[15.41,69.4],[15.55,70.5],[15.77,72.6],[15.84,81.1],[15.98,75.8],[16.2,74.7],[16.34,76.9],[16.42,73.7],[16.63,75.8],[16.85,76.9],[17.06,75.8],[17.28,76.9],[17.49,75.8],[17.56,74.7],[17.71,78],[17.92,76.9],[18.14,78],[18.35,76.9],[18.57,78],[18.71,74.7],[18.79,79],[19.0,76.9],[19.22,78],[19.43,80.1],[19.65,78],[19.86,80.1],[19.99,75.8],[20.08,81.1],[20.29,79],[20.51,80.1],[20.72,79],[20.94,78],[21.15,80.1],[21.3,76.9],[21.37,78],[21.58,79],[21.8,78],[22.02,79],[22.23,76.9],[22.45,78],[22.59,76.9],[22.66,79],[22.88,78],[23.09,75.8],[23.31,74.7],[23.45,72.6],[23.52,75.8],[23.67,76.9],[23.81,82.2],[23.85,86.5],[23.88,88.6]];

// ---------------- LAYOUT / STYLE ----------------
const FONT = '"Liberation Sans", Arial, Helvetica, sans-serif';
const INK = '#1e1e1e';
const COL_BLUE = '#0000ff', COL_RED = '#ff0d0d', COL_GREEN = '#22f022', COL_LINE = '#9a9a9a';
const ARROW_Y = 30;
const layout = [
  {top: 32,  h: 155, bl: 118, br: 166, ml: 177, mr: 731, letterY: 14},
  {top: 294, h: 155, bl: 119, br: 166, ml: 180, mr: 736, letterY: 274},
  {top: 557, h: 155, bl: 119, br: 166, ml: 180, mr: 736, letterY: 532},
  {top: 821, h: 156, bl: 119, br: 166, ml: 179, mr: 736, letterY: 795}
];
const panelData = [
  {base: aBase, line: aLine, blue: aBlue, red: aRed, green: aGreen, arrows: arrowsA},
  {base: bBase, line: bLine, blue: bBlue, red: bRed, green: bGreen, arrows: arrowsB},
  {base: cBase, line: cLine, blue: cBlue, red: cRed, green: cGreen, arrows: arrowsC},
  {base: dBase, line: dLine, blue: dBlue, red: dRed, green: dGreen, arrows: arrowsD}
];

const grid = [], xAxis = [], yAxis = [], series = [], graphic = [];
const axisLine = {show: true, lineStyle: {color: INK, width: 1.5}};
layout.forEach((L, i) => {
  const P = panelData[i];
  const gb = 2 * i, gm = 2 * i + 1;
  const axisY = L.top + L.h;
  grid.push({left: L.bl, top: L.top, width: L.br - L.bl, height: L.h});
  grid.push({left: L.ml, top: L.top, width: L.mr - L.ml, height: L.h});
  xAxis.push({gridIndex: gb, type: 'value', min: 0, max: 24, axisLine, axisTick: {show: false}, axisLabel: {show: false}, splitLine: {show: false}});
  xAxis.push({gridIndex: gm, type: 'value', min: 0, max: xMaxes[i], interval: xIntervals[i], axisLine,
    axisTick: {show: true, length: 4, lineStyle: {color: INK, width: 1.2}},
    minorTick: {show: true, splitNumber: 2, length: 3, lineStyle: {color: INK, width: 1}},
    axisLabel: {fontFamily: FONT, fontWeight: 'bold', fontSize: 21, color: INK, margin: 8},
    splitLine: {show: false}, minorSplitLine: {show: false}});
  yAxis.push({gridIndex: gb, type: 'value', min: 50, max: 150, interval: 25, axisLine,
    axisTick: {show: true, length: 5, lineStyle: {color: INK, width: 1.2}},
    minorTick: {show: true, splitNumber: 5, length: 3, lineStyle: {color: INK, width: 1}},
    axisLabel: {fontFamily: FONT, fontWeight: 'bold', fontSize: 20, color: INK, margin: 5},
    splitLine: {show: false}, minorSplitLine: {show: false},
    name: yNames[i], nameLocation: 'middle', nameGap: 56,
    nameTextStyle: {fontFamily: FONT, fontSize: 18, lineHeight: 23, color: INK, padding: [0, 0, 0, 16]}});
  yAxis.push({gridIndex: gm, type: 'value', min: 50, max: 150, show: false});

  series.push({type: 'line', xAxisIndex: gb, yAxisIndex: gb, data: P.base, showSymbol: false, silent: true, z: 3,
    lineStyle: {color: COL_LINE, width: 1.3}});
  series.push({type: 'scatter', xAxisIndex: gm, yAxisIndex: gm, data: P.blue, symbol: 'diamond', symbolSize: 8.5, z: 2,
    itemStyle: {color: COL_BLUE}});
  series.push({type: 'line', xAxisIndex: gm, yAxisIndex: gm, data: P.line, showSymbol: false, silent: true, z: 3,
    lineStyle: {color: COL_LINE, width: 1.3}});
  series.push({type: 'scatter', xAxisIndex: gm, yAxisIndex: gm, data: P.red, symbol: 'diamond', symbolSize: 8.5, z: 4,
    itemStyle: {color: COL_RED}});
  series.push({type: 'scatter', xAxisIndex: gm, yAxisIndex: gm, data: P.green, symbol: 'diamond', symbolSize: 8.5, z: 5,
    itemStyle: {color: COL_GREEN}});
  series.push({type: 'scatter', xAxisIndex: gm, yAxisIndex: gm, data: P.arrows.map(d => [d, ARROW_Y]), clip: false,
    symbol: 'triangle', symbolSize: [9, 7], z: 6, itemStyle: {color: '#000'}});

  graphic.push({type: 'text', x: 1, y: L.letterY, style: {text: panelLetters[i], font: 'bold 26px ' + FONT, fill: INK, verticalAlign: 'middle', textVerticalAlign: 'middle'}});
  graphic.push({type: 'text', x: 136, y: axisY + 24, style: {text: baselineText, font: 'bold 13px ' + FONT, fill: '#333', lineHeight: 14, align: 'center', textAlign: 'center', verticalAlign: 'middle', textVerticalAlign: 'middle'}});
  graphic.push({type: 'text', x: 425, y: axisY + 44, style: {text: xTitle, font: '19px ' + FONT, fill: INK, align: 'center', textAlign: 'center', verticalAlign: 'middle', textVerticalAlign: 'middle'}});
  graphic.push({type: 'line', shape: {x1: L.br, y1: axisY - 4, x2: L.br, y2: axisY + 4}, style: {stroke: INK, lineWidth: 1.5}});
  graphic.push({type: 'line', shape: {x1: L.ml, y1: axisY - 4, x2: L.ml, y2: axisY + 4}, style: {stroke: INK, lineWidth: 1.5}});
});

const chart = echarts.init(document.getElementById('c'), null, {renderer: 'canvas'});
chart.setOption({animation: false, backgroundColor: '#fff', grid, xAxis, yAxis, series, graphic});
</script></body></html>
